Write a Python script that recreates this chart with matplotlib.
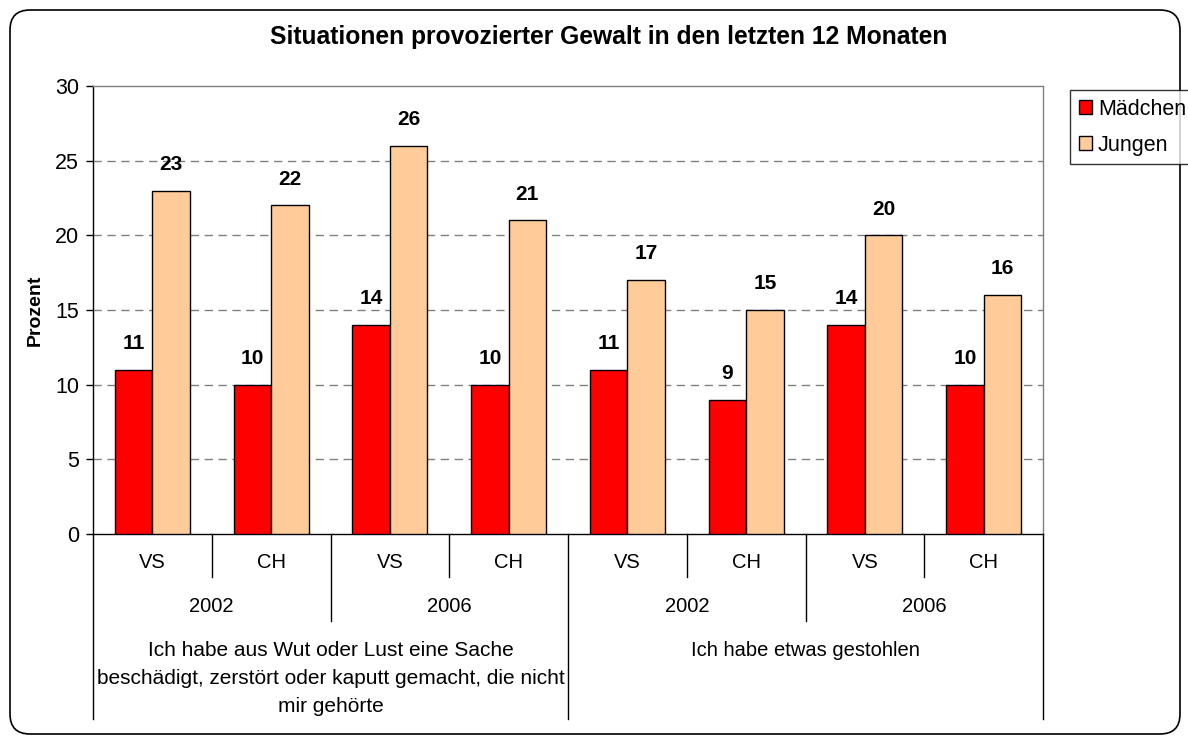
import matplotlib
matplotlib.use("Agg")
import matplotlib.pyplot as plt
from matplotlib.patches import FancyBboxPatch, Patch
import matplotlib.transforms as mtransforms
import numpy as np

plt.rcParams['font.family'] = ['Liberation Sans', 'DejaVu Sans']

title = "Situationen provozierter Gewalt in den letzten 12 Monaten"
ylabel = "Prozent"
series_names = ["Mädchen", "Jungen"]
maedchen = [11, 10, 14, 10, 11, 9, 14, 10]
jungen = [23, 22, 26, 21, 17, 15, 20, 16]
level1 = ["VS", "CH", "VS", "CH", "VS", "CH", "VS", "CH"]
level2 = ["2002", "2006", "2002", "2006"]
level3 = ["Ich habe aus Wut oder Lust eine Sache\nbeschädigt, zerstört oder kaputt gemacht, die nicht\nmir gehörte",
          "Ich habe etwas gestohlen"]
yticks = [0, 5, 10, 15, 20, 25, 30]
colors = ["#FF0000", "#FFCC99"]

W, H = 1188, 736
fig = plt.figure(figsize=(W / 100, H / 100), dpi=100)

# outer rounded frame (pixel based)
frame = FancyBboxPatch((10 / 100, (H - 734) / 100), 1170 / 100, 724 / 100,
                       boxstyle="round,pad=0,rounding_size=0.2",
                       transform=fig.dpi_scale_trans, fill=False,
                       edgecolor="black", linewidth=1.2)
fig.patches.append(frame)

ax_l, ax_r, ax_t, ax_b = 93, 1043, 86, 534
ax = fig.add_axes([ax_l / W, 1 - ax_b / H, (ax_r - ax_l) / W, (ax_b - ax_t) / H])

n = len(maedchen)
x = np.arange(n)
bw = 0.315
b1 = ax.bar(x - bw / 2, maedchen, bw, color=colors[0], edgecolor="black", linewidth=1.0, zorder=3, label=series_names[0])
b2 = ax.bar(x + bw / 2, jungen, bw, color=colors[1], edgecolor="black", linewidth=1.0, zorder=3, label=series_names[1])

for bars, vals in ((b1, maedchen), (b2, jungen)):
    for rect, v in zip(bars, vals):
        ax.annotate(str(v), (rect.get_x() + rect.get_width() / 2, v),
                    xytext=(0, 12), textcoords="offset points",
                    ha="center", va="bottom", fontsize=15, fontweight="bold", zorder=5)

ax.set_xlim(-0.5, n - 0.5)
ax.set_ylim(0, 30)
ax.set_yticks(yticks)
ax.set_yticklabels([str(t) for t in yticks], fontsize=15.5)
ax.tick_params(axis="y", direction="out", length=5, width=1, color="black", pad=5)
ax.set_xticks([])
for yv in yticks[1:-1]:
    ax.axhline(yv, color="#808080", linestyle=(0, (6, 4)), linewidth=1.0, zorder=1)

ax.spines["left"].set_color("black")
ax.spines["bottom"].set_color("black")
ax.spines["top"].set_color("#808080")
ax.spines["right"].set_color("#808080")
for s in ax.spines.values():
    s.set_linewidth(1.0)

ax.set_ylabel(ylabel, fontsize=14, fontweight="bold", labelpad=8)
fig.text(0.512, 1 - 37 / H, title, ha="center", va="center", fontsize=17.7, fontweight="bold")

# multi-level category axis
trans = mtransforms.blended_transform_factory(ax.transData, ax.transAxes)
axh = ax_b - ax_t
def fy(px):
    return -(px - ax_b) / axh

y_l1_end = fy(577)
y_l2_end = fy(621)
y_l3_end = fy(719)
line_kw = dict(transform=trans, clip_on=False, color="black", linewidth=1.0)
for i in range(n + 1):
    xb = i - 0.5
    if i % 4 == 0:
        yend = y_l3_end
    elif i % 2 == 0:
        yend = y_l2_end
    else:
        yend = y_l1_end
    ax.plot([xb, xb], [0, yend], **line_kw)

for i, lab in enumerate(level1):
    ax.text(i, fy(562), lab, transform=trans, ha="center", va="center", fontsize=14.5)
for j, lab in enumerate(level2):
    ax.text(2 * j + 0.5, fy(606), lab, transform=trans, ha="center", va="center", fontsize=14.5)
ax.text(1.5, fy(678), level3[0], transform=trans, ha="center", va="center", fontsize=15, linespacing=1.6)
ax.text(5.5, fy(650), level3[1], transform=trans, ha="center", va="center", fontsize=14.5)

handles = [Patch(facecolor=colors[0], edgecolor="black"), Patch(facecolor=colors[1], edgecolor="black")]
leg = fig.legend(handles, series_names, loc="upper left", bbox_to_anchor=(1070 / W, 1 - 90 / H),
                 frameon=True, fancybox=False, edgecolor="black", fontsize=15.5,
                 handlelength=0.6, handleheight=0.6, handletextpad=0.3, borderpad=0.4,
                 labelspacing=0.7, borderaxespad=0)
leg.get_frame().set_linewidth(1.0)

fig.savefig("out.png", dpi=100)
